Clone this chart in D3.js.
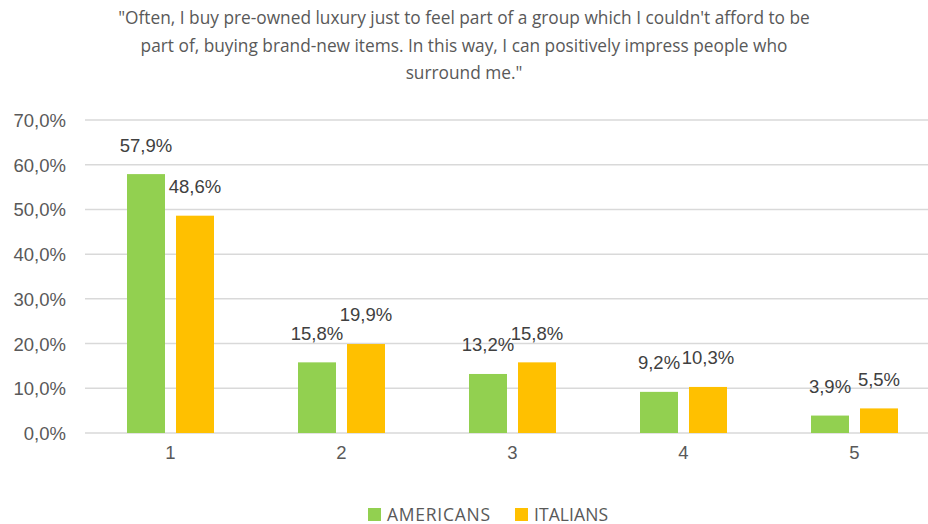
<!DOCTYPE html>
<html>
<head>
<meta charset="utf-8">
<script src="https://cdn.jsdelivr.net/npm/d3@7"></script>
<style>
  html, body { margin: 0; padding: 0; background: #fff; }
  svg { display: block; }
</style>
</head>
<body>
<svg id="chart" width="928" height="524"></svg>
<script>
// Survey answers on a 1–5 agreement scale, share of respondents per group
const categories = ["1", "2", "3", "4", "5"];
const seriesNames = ["AMERICANS", "ITALIANS"];
const americans = [57.9, 15.8, 13.2, 9.2, 3.9];
const italians = [48.6, 19.9, 15.8, 10.3, 5.5];
const yTicks = [0, 10, 20, 30, 40, 50, 60, 70];
const titleLines = [
  "\"Often, I buy pre-owned luxury just to feel part of a group which I couldn't afford to be",
  "part of, buying brand-new items. In this way, I can positively impress people who",
  "surround me.\""
];
const colors = ["#92D050", "#FFC000"];

(function () {
  const values = [americans, italians];
  const svg = d3.select("#chart");
  const W = 928;
  const plotLeft = 85, plotRight = 940, plotTop = 120, plotBottom = 433;

  const fmt = v => d3.format(".1f")(v).replace(".", ",") + "%";

  // Title, wrapped over three centred lines
  const title = svg.append("text")
    .attr("text-anchor", "middle")
    .attr("font-family", "'Open Sans', sans-serif")
    .attr("font-size", 17.3)
    .attr("fill", "#595959");
  titleLines.forEach((line, i) => {
    title.append("tspan")
      .attr("x", W / 2)
      .attr("y", 24 + i * 27.5)
      .text(line);
  });

  const x0 = d3.scaleBand().domain(categories).range([plotLeft, plotRight]).padding(0);
  const x1 = d3.scaleBand().domain(seriesNames)
    .range([-43.5, 43.5]).paddingInner(0.2245).paddingOuter(0);
  const y = d3.scaleLinear().domain([0, 70]).range([plotBottom, plotTop]);

  // Horizontal gridlines
  svg.append("g").selectAll("line")
    .data(yTicks)
    .join("line")
    .attr("x1", plotLeft).attr("x2", plotRight)
    .attr("y1", d => y(d)).attr("y2", d => y(d))
    .attr("stroke", "#d9d9d9")
    .attr("stroke-width", 1.5);

  // Y axis labels
  const yAxis = d3.axisLeft(y).tickValues(yTicks).tickFormat(fmt).tickSize(0).tickPadding(0);
  const gy = svg.append("g").attr("transform", "translate(66,0)").call(yAxis);
  gy.select(".domain").remove();
  gy.selectAll("text")
    .attr("font-family", "'Liberation Sans', Arial, sans-serif")
    .attr("font-size", 18.5)
    .attr("fill", "#595959")
    .attr("dy", "0.35em");

  // X axis labels
  const xAxis = d3.axisBottom(x0).tickSize(0).tickPadding(0);
  const gx = svg.append("g").attr("transform", "translate(0,453)").call(xAxis);
  gx.select(".domain").remove();
  gx.selectAll("text")
    .attr("font-family", "'Liberation Sans', Arial, sans-serif")
    .attr("font-size", 18.5)
    .attr("fill", "#595959")
    .attr("dy", "0.35em");

  // Bars and value labels
  const groups = svg.append("g").selectAll("g")
    .data(categories)
    .join("g")
    .attr("transform", d => `translate(${x0(d) + x0.bandwidth() / 2},0)`);

  seriesNames.forEach((name, si) => {
    groups.append("rect")
      .attr("x", x1(name))
      .attr("width", x1.bandwidth())
      .attr("y", (d, i) => y(values[si][i]))
      .attr("height", (d, i) => y(0) - y(values[si][i]))
      .attr("fill", colors[si]);
    groups.append("text")
      .attr("x", x1(name) + x1.bandwidth() / 2)
      .attr("y", (d, i) => y(values[si][i]) - 29)
      .attr("dy", "0.35em")
      .attr("text-anchor", "middle")
      .attr("font-family", "'Liberation Sans', Arial, sans-serif")
      .attr("font-size", 18.5)
      .attr("fill", "#404040")
      .text((d, i) => fmt(values[si][i]));
  });

  // Legend
  const legendX = [368, 515];
  const legend = svg.append("g").selectAll("g")
    .data(seriesNames)
    .join("g")
    .attr("transform", (d, i) => `translate(${legendX[i]},508)`);
  legend.append("rect")
    .attr("width", 13).attr("height", 13)
    .attr("fill", (d, i) => colors[i]);
  legend.append("text")
    .attr("x", 19).attr("y", 6.5).attr("dy", "0.35em")
    .attr("font-family", "'Open Sans', sans-serif")
    .attr("font-size", 17.5)
    .attr("textLength", (d, i) => [103, 74][i])
    .attr("fill", "#595959")
    .text(d => d);
})();
</script>
</body>
</html>
